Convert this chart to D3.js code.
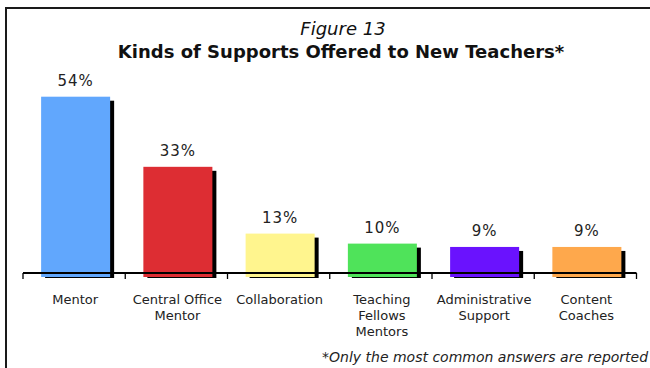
<!DOCTYPE html>
<html>
<head>
<meta charset="utf-8">
<script src="https://cdn.jsdelivr.net/npm/d3@7/dist/d3.min.js"></script>
<style>
  html, body { margin: 0; padding: 0; background: #fff; }
  svg { display: block; }
</style>
</head>
<body>
<svg id="chart" width="650" height="368"></svg>
<script>
// Support types and the share of new teachers reporting each
const categories = ["Mentor", "Central Office\nMentor", "Collaboration",
  "Teaching\nFellows\nMentors", "Administrative\nSupport", "Content\nCoaches"];
const values = [54, 33, 13, 10, 9, 9];
const valueLabels = ["54%", "33%", "13%", "10%", "9%", "9%"];
const barColors = ["#61a7fd", "#dd2d33", "#fff58e", "#4fe35a", "#6a12fe", "#fea84c"];

const svg = d3.select("#chart");

// Outer frame (continues past the right and bottom edges)
svg.append("rect")
  .attr("x", 6).attr("y", 8)
  .attr("width", 700).attr("height", 400)
  .attr("fill", "none").attr("stroke", "#1a1a1a").attr("stroke-width", 2);

// Titles
svg.append("text")
  .attr("x", 343).attr("y", 35)
  .attr("text-anchor", "middle")
  .attr("font-family", "DejaVu Sans").attr("font-style", "italic")
  .attr("font-size", 18).attr("fill", "#111")
  .text("Figure 13");

svg.append("text")
  .attr("x", 341).attr("y", 58)
  .attr("text-anchor", "middle")
  .attr("font-family", "DejaVu Sans").attr("font-weight", "bold")
  .attr("font-size", 18).attr("fill", "#111")
  .text("Kinds of Supports Offered to New Teachers*");

// Scales
const base = 277;
const x = d3.scaleBand().domain(categories).range([23, 636.5]).padding(0);
const y = d3.scaleLinear().domain([0, 54]).range([base, 96.7]);
const barW = x.bandwidth() * 0.675;
const barX = c => x(c) + (x.bandwidth() - barW) / 2 + 1.5;

const data = categories.map((c, i) => ({ c, v: values[i], label: valueLabels[i], color: barColors[i] }));

// Drop shadows behind each bar
svg.append("g").selectAll("rect").data(data).join("rect")
  .attr("x", d => barX(d.c) + 4)
  .attr("y", d => y(d.v) + 4)
  .attr("width", barW)
  .attr("height", d => base + 1 - (y(d.v) + 4))
  .attr("fill", "#000");

// Bars
svg.append("g").selectAll("rect").data(data).join("rect")
  .attr("x", d => barX(d.c))
  .attr("y", d => y(d.v))
  .attr("width", barW)
  .attr("height", d => base - y(d.v))
  .attr("fill", d => d.color);

// Value labels
svg.append("g").selectAll("text").data(data).join("text")
  .attr("x", d => barX(d.c) + barW / 2)
  .attr("y", d => y(d.v) - 10.5)
  .attr("text-anchor", "middle")
  .attr("font-family", "DejaVu Sans").attr("font-size", 15)
  .attr("letter-spacing", 1)
  .attr("fill", "#222")
  .text(d => d.label);

// Category axis: baseline with ticks at category boundaries
const axisY = 273;
const axis = d3.axisBottom(x).tickSize(0).tickFormat("");
const gAxis = svg.append("g").attr("transform", `translate(0,${axisY})`).call(axis);
gAxis.select(".domain").attr("stroke", "#000").attr("stroke-width", 2.2)
  .attr("d", `M${x.range()[0]},0H${x.range()[1]}`);
gAxis.selectAll(".tick").remove();
const boundaries = categories.map(c => x(c)).concat([x.range()[1]]);
gAxis.selectAll("line.bound").data(boundaries).join("line")
  .attr("class", "bound")
  .attr("x1", d => d).attr("x2", d => d)
  .attr("y1", 0).attr("y2", 6)
  .attr("stroke", "#000").attr("stroke-width", 1.3);

// Category labels (multi-line)
const labels = svg.append("g").selectAll("text").data(data).join("text")
  .attr("x", d => barX(d.c) + barW / 2 - 0.5)
  .attr("y", 304)
  .attr("text-anchor", "middle")
  .attr("font-family", "DejaVu Sans").attr("font-size", 13)
  .attr("fill", "#222");
labels.each(function(d) {
  const t = d3.select(this);
  d.c.split("\n").forEach((line, i) => {
    t.append("tspan").attr("x", t.attr("x")).attr("dy", i === 0 ? 0 : 16).text(line);
  });
});

// Footnote
svg.append("text")
  .attr("x", 322).attr("y", 362)
  .attr("font-family", "DejaVu Sans").attr("font-style", "italic")
  .attr("font-size", 14).attr("fill", "#222")
  .text("*Only the most common answers are reported");
</script>
</body>
</html>
